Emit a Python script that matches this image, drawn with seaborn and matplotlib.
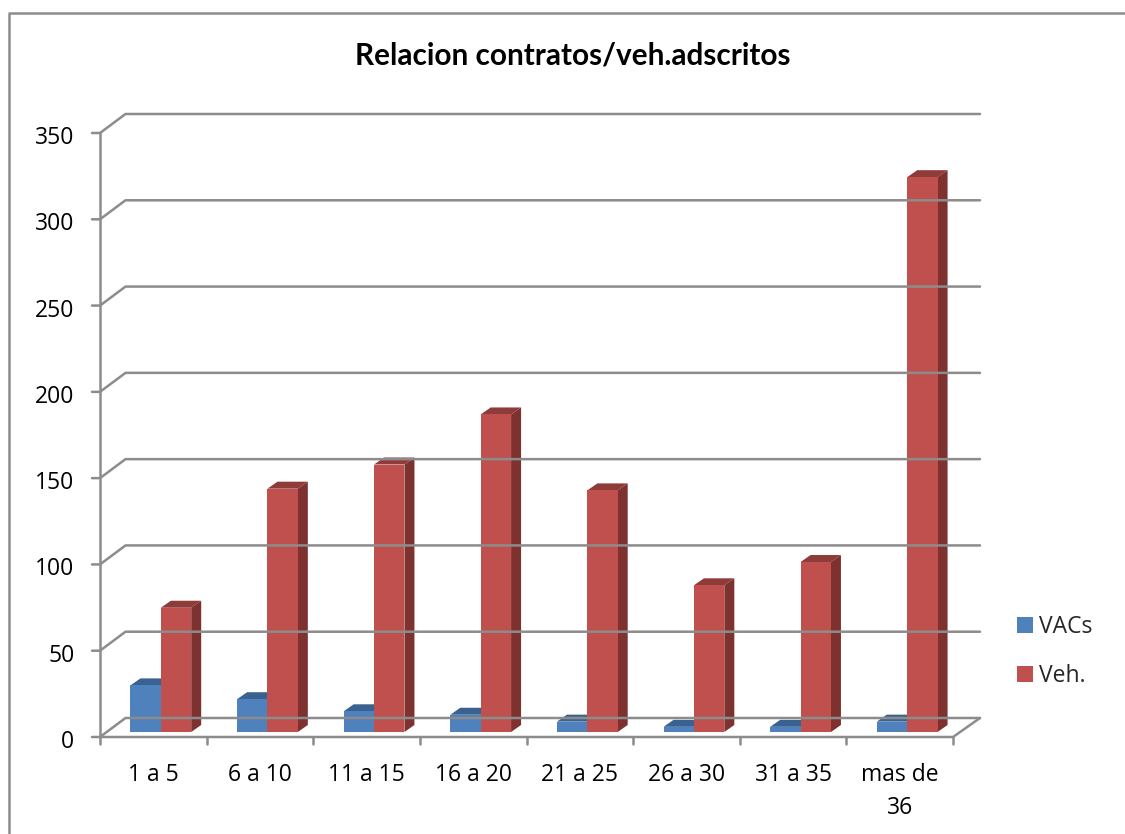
import pandas as pd
import matplotlib.pyplot as plt
import seaborn as sns
from matplotlib.lines import Line2D
from matplotlib.patches import Polygon
from matplotlib.transforms import Affine2D

# Datos
categorias = ["1 a 5", "6 a 10", "11 a 15", "16 a 20", "21 a 25", "26 a 30", "31 a 35", "mas de\n36"]
vacs = [27, 19, 12, 10, 6, 3, 3, 6]
veh = [72, 141, 155, 184, 140, 85, 98.5, 321.5]
ticks_y = [0, 50, 100, 150, 200, 250, 300, 350]
titulo = "Relacion contratos/veh.adscritos"

W, H = 1125, 834
GRIS = "#8c8c8c"
COLORES = {"VACs": "#4f81bd", "Veh.": "#c0504d"}
TECHO = {"VACs": "#3a6291", "Veh.": "#8f3b39"}
LADO = {"VACs": "#345a86", "Veh.": "#7d3230"}

df = pd.DataFrame({
    "cat": categorias * 2,
    "serie": ["VACs"] * len(vacs) + ["Veh."] * len(veh),
    "valor": vacs + veh,
})

sns.set_theme(style="white")
plt.rcParams["font.family"] = ["Open Sans", "DejaVu Sans"]

fig = plt.figure(figsize=(W / 100, H / 100), dpi=100)
# plano de las barras en pixeles: x 107.5-960.5, y 128-732
ax = fig.add_axes([107.5 / W, 1 - 732 / H, 853 / W, 604 / H])
ax.patch.set_alpha(0)

sns.barplot(df, x="cat", y="valor", hue="serie", palette=COLORES, width=0.57, gap=0,
            saturation=1, legend=False, ax=ax, order=categorias)
ax.set_xlim(-0.5, len(categorias) - 0.5)
ax.set_ylim(0, 350)
ax.set_xlabel("")
ax.set_ylabel("")
sns.despine(ax=ax, left=True, bottom=True)


def desplaza(dx, dy):
    return ax.transData + Affine2D().translate(dx, dy)


FRENTE = desplaza(-7.5, -5)
FONDO = desplaza(18, 14)
FONDO_DER = desplaza(19.5, 14)
lw = 1.8
x0, x1 = ax.get_xlim()

# paredes y rejilla
def px(t, x, y):
    return t.transform((x, y))


def linea(puntos, z=1):
    xs, ys = zip(*puntos)
    fig.add_artist(Line2D(xs, ys, transform=None, color=GRIS, lw=lw, zorder=z))


for v in ticks_y:
    p_front = px(FRENTE, x0, v)
    linea([p_front - (8, 0), p_front, px(FONDO, x0, v), px(FONDO_DER, x1, v)])
linea([px(FRENTE, x0, 0), px(FRENTE, x0, 350)])
linea([px(FRENTE, x0, 0), px(FRENTE, x1, 0), px(FONDO_DER, x1, 0)])
for i in range(len(categorias) + 1):
    p = px(FRENTE, x0 + i, 0)
    linea([p, p - (0, 7)])

# caras de profundidad de cada barra
prof = (10, 7)
for n, (serie, cont) in enumerate(zip(["VACs", "Veh."], ax.containers)):
    for bar in cont:
        bar.set_zorder(3 + 2 * n)
        bar.set_linewidth(0)
        xa, xb, h = bar.get_x(), bar.get_x() + bar.get_width(), bar.get_height()
        a, b, c = px(ax.transData, xa, h), px(ax.transData, xb, h), px(ax.transData, xb, 0)
        ax.add_patch(Polygon([a, b, b + prof, a + prof], transform=None, color=TECHO[serie], lw=0, zorder=2 + 2 * n, clip_on=False))
        ax.add_patch(Polygon([b, c, c + prof, b + prof], transform=None, color=LADO[serie], lw=0, zorder=2 + 2 * n, clip_on=False))

# textos de ejes
ax.set_yticks(ticks_y)
ax.tick_params(axis="both", length=0, labelsize=16.5, labelcolor="black")
ax.tick_params(axis="y", pad=0)
ax.set_xticks(range(len(categorias)))
ax.set_xticklabels(categorias, linespacing=1.52, va="top")
mueve_x = Affine2D().translate(-7.5, -26)
for lab in ax.get_xticklabels():
    lab.set_transform(lab.get_transform() + mueve_x)
mueve_y = Affine2D().translate(-33, -7)
for lab in ax.get_yticklabels():
    lab.set_transform(lab.get_transform() + mueve_y)

fig.text(573 / W, 1 - 55 / H, titulo, ha="center", va="center", fontsize=21.4, fontweight="bold", color="black",
         family=["Lato", "DejaVu Sans"])

# leyenda
handles = [plt.Rectangle((0, 0), 1, 1, color=COLORES[s], lw=0) for s in COLORES]
fig.legend(handles, list(COLORES), loc="upper left", bbox_to_anchor=(1008 / W, 1 - 606 / H), frameon=False,
           fontsize=16.5, handlelength=0.68, handleheight=0.68, handletextpad=0.27, labelspacing=1.08,
           borderpad=0.4, borderaxespad=0)

# marco del grafico
fig.add_artist(Line2D([9, 9, W], [0, H - 13, H - 13], transform=None, color=GRIS, lw=lw))

fig.savefig("out.png", dpi=100)
